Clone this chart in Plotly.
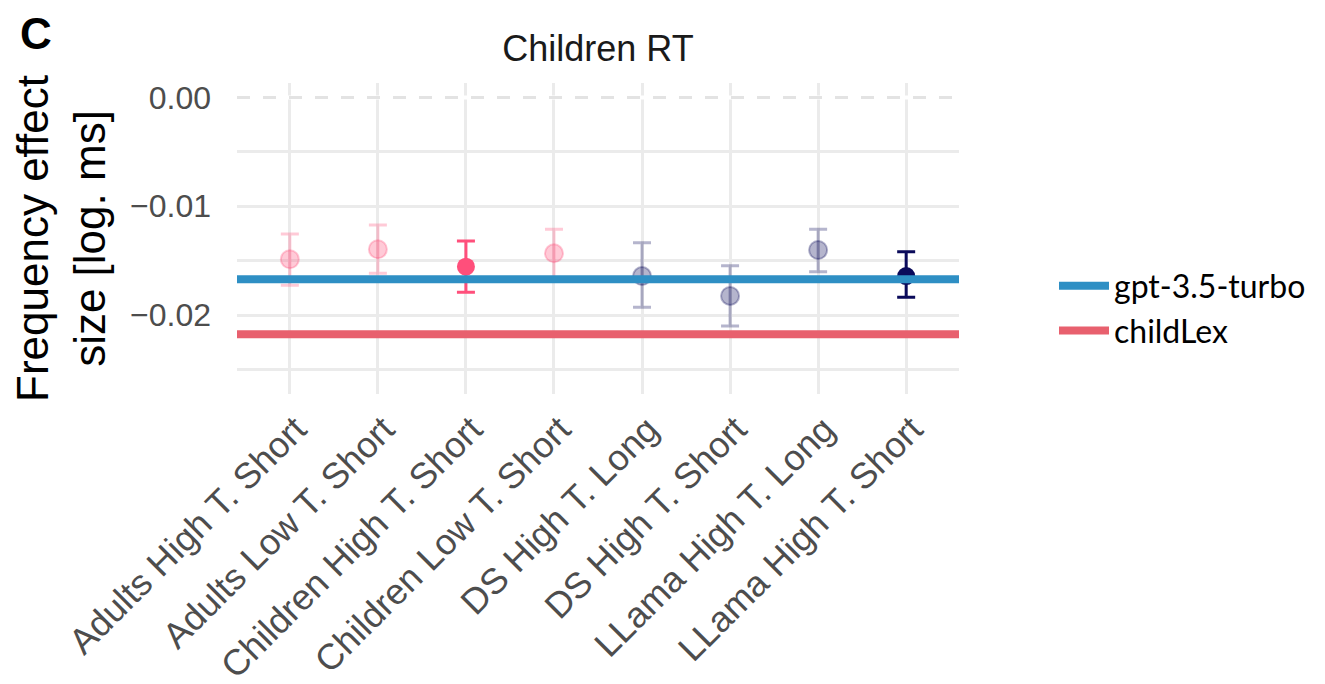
import plotly.graph_objects as go

categories = ["Adults High T. Short", "Adults Low T. Short", "Children High T. Short",
              "Children Low T. Short", "DS High T. Long", "DS High T. Short",
              "LLama High T. Long", "LLama High T. Short"]
estimates = [-0.01487, -0.01395, -0.01555, -0.01432, -0.01641, -0.01824, -0.01402, -0.01641]
ci_upper = [-0.01255, -0.01172, -0.01319, -0.01211, -0.01335, -0.01546, -0.01211, -0.01417]
ci_lower = [-0.01726, -0.01616, -0.01790, -0.01656, -0.01928, -0.02100, -0.01601, -0.01836]
group = ["human", "human", "human", "human", "llm", "llm", "llm", "llm"]
highlight = [False, False, True, False, False, False, False, True]

ref_names = ["gpt-3.5-turbo", "childLex"]
ref_values = [-0.01671, -0.02176]
ref_colors = ["#2E8FC4", "#E8606E"]

base_rgb = {"human": (255, 79, 123), "llm": (10, 10, 90)}

FONT = "Liberation Sans, Arial, sans-serif"
W, H = 1317, 676  # page body has an 8px default margin
L, R, T, B = 229, 366, 75, 290
PW, PH = W - L - R, H - T - B

fig = go.Figure()

for g in ["human", "llm"]:
    for hl in [False, True]:
        idx = [i for i in range(len(categories)) if group[i] == g and highlight[i] == hl]
        if not idx:
            continue
        r, gg, b = base_rgb[g]
        a = 1.0 if hl else 0.3
        col = f"rgba({r},{gg},{b},{a})"
        fig.add_trace(go.Scatter(
            x=[categories[i] for i in idx],
            y=[estimates[i] for i in idx],
            mode="markers",
            marker=dict(size=18, color=col, line=dict(width=2 if not hl else 0, color=col)),
            error_y=dict(type="data", symmetric=False,
                         array=[ci_upper[i] - estimates[i] for i in idx],
                         arrayminus=[estimates[i] - ci_lower[i] for i in idx],
                         color=col, thickness=3, width=9),
            showlegend=False, hoverinfo="skip",
        ))

# zero reference line on an overlay axis spanning the full panel
fig.add_trace(go.Scatter(x=[0, 1], y=[0, 0], xaxis="x2", mode="lines",
                         line=dict(color="white", width=4), showlegend=False, hoverinfo="skip"))
fig.add_trace(go.Scatter(x=[0, 1], y=[0, 0], xaxis="x2", mode="lines",
                         line=dict(color="#e3e3e3", width=3, dash="13px,13px"),
                         showlegend=False, hoverinfo="skip"))

for name, val, col in zip(ref_names, ref_values, ref_colors):
    fig.add_trace(go.Scatter(x=[0, 1], y=[val, val], xaxis="x2", mode="lines",
                             line=dict(color=col, width=8), name=name, hoverinfo="skip"))

fig.update_layout(
    width=W, height=H,
    margin=dict(l=L, r=R, t=T, b=B, autoexpand=False),
    paper_bgcolor="white", plot_bgcolor="white",
    title=dict(text="Children RT", x=0.5, xref="paper", xanchor="center",
               y=1 - 40 / H, yanchor="middle",
               font=dict(family=FONT, size=36, color="#1a1a1a")),
    legend=dict(x=(1046 - L) / PW, xanchor="left", y=0.275, yanchor="middle",
                font=dict(family="Lato, sans-serif", size=32, color="black"),
                bgcolor="rgba(0,0,0,0)", tracegroupgap=0, itemwidth=50),
    xaxis=dict(type="category", categoryorder="array", categoryarray=categories,
               range=[-0.6, 7.6], showgrid=True, gridcolor="#ebebeb", gridwidth=3,
               zeroline=False, showline=False, ticks="", tickangle=-45, automargin=False,
               ticklabelstandoff=6, ticklabelshift=6,
               tickfont=dict(family=FONT, size=36, color="#4d4d4d")),
    xaxis2=dict(overlaying="x", range=[0, 1], visible=False, automargin=False),
    yaxis=dict(range=[-0.02725, 0.00133], tickvals=[0, -0.01, -0.02],
               ticktext=["0.00", "\u22120.01", "\u22120.02"],
               showgrid=True, gridcolor="#ebebeb", gridwidth=3, zeroline=False,
               showline=False, ticks="", ticklabelstandoff=25, automargin=False,
               minor=dict(tickvals=[-0.005, -0.015, -0.025], showgrid=True,
                          gridcolor="#ebebeb", gridwidth=3),
               tickfont=dict(family=FONT, size=32, color="#4d4d4d"),
               title=dict(text="Frequency effect<br>size [log. ms]", standoff=12,
                          font=dict(family=FONT, size=44, color="black"))),
    annotations=[dict(text="<b>C</b>", xref="paper", yref="paper",
                      x=(10 - L) / PW, xanchor="left",
                      y=1 + (T - 25) / PH, yanchor="middle", showarrow=False,
                      font=dict(family=FONT, size=44, color="black"))],
)

fig.write_html("out.html")
